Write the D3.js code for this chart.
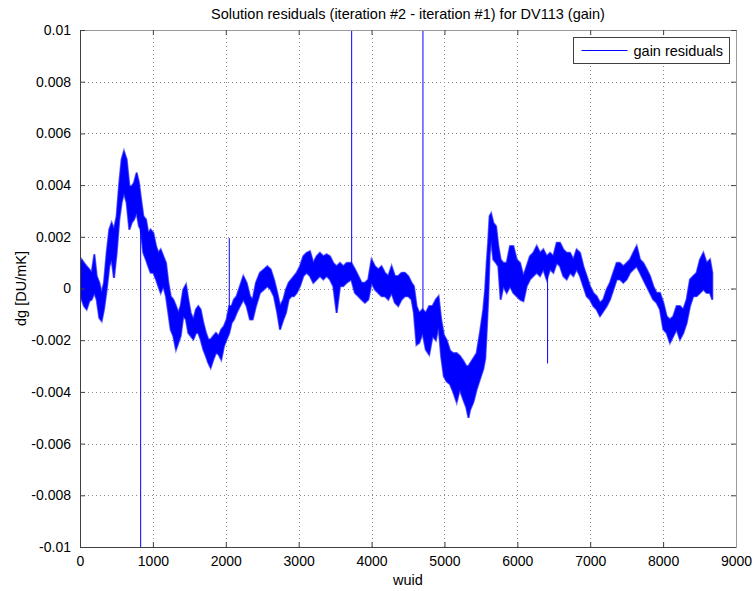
<!DOCTYPE html>
<html>
<head>
<meta charset="utf-8">
<script src="https://cdn.jsdelivr.net/npm/d3@7"></script>
<style>
  body { margin: 0; background: #fff; }
  text { font-family: "Liberation Sans", Arial, sans-serif; fill: #000; }
</style>
</head>
<body>
<div id="wrapper"></div>
<script>
// sampled envelope of the residual trace (upper / lower edge of the noisy band)
const wuid = [0,23,55,91,128,160,197,229,265,297,329,366,402,434,466,503,539,571,603,640,677,709,741,777,809,832,869,905,937,969,1006,1043,1075,1107,1143,1180,1212,1244,1280,1317,1349,1381,1417,1454,1486,1518,1555,1591,1623,1655,1692,1728,1760,1792,1829,1865,1902,1938,1975,2012,2048,2080,2112,2149,2195,2241,2286,2332,2369,2414,2469,2524,2570,2616,2661,2707,2744,2790,2826,2863,2899,2936,2973,3018,3064,3109,3155,3201,3247,3292,3338,3384,3429,3475,3521,3567,3612,3658,3722,3772,3818,3863,3909,3955,4000,4046,4092,4137,4183,4229,4275,4320,4366,4412,4458,4503,4549,4581,4617,4654,4700,4745,4791,4837,4882,4919,4955,4992,5031,5076,5120,5168,5210,5259,5300,5330,5351,5397,5442,5488,5534,5560,5580,5600,5620,5640,5671,5708,5739,5771,5808,5854,5900,5945,5991,6037,6083,6128,6174,6220,6266,6311,6357,6403,6449,6494,6540,6586,6631,6677,6723,6769,6814,6860,6906,6951,6997,7043,7088,7134,7180,7226,7271,7317,7363,7408,7454,7500,7546,7591,7637,7683,7728,7774,7820,7865,7911,7957,8003,8048,8094,8140,8186,8231,8277,8323,8369,8414,8460,8506,8552,8597,8643,8675];
const gainHi = [0.00086,0.00112,0.00099,0.00086,0.00074,0.00061,0.00132,0.00048,0.00022,-0.00017,0.00022,0.00138,0.00228,0.00254,0.00228,0.0028,0.00409,0.00499,0.00531,0.00499,0.00396,0.00396,0.00409,0.00448,0.00409,0.00357,0.0028,0.00267,0.00215,0.00228,0.00215,0.00164,0.00138,0.00151,0.00125,0.00099,0.00022,-0.0003,-0.00043,-0.00068,-0.00094,-0.00068,-0.00004,0.00015,-0.00043,-0.00094,-0.0012,-0.00081,-0.00068,-0.00081,-0.00133,-0.00172,-0.00197,-0.00197,-0.00184,-0.00172,-0.00184,-0.00159,-0.00146,-0.0012,-0.00068,-0.00068,-0.00043,-0.0003,0.00009,0.00048,0.00022,-0.0003,-0.00043,0.00022,0.00061,0.00074,0.00086,0.00074,0.00035,-0.00017,-0.00068,-0.00043,-0.00004,0.00022,0.00035,0.00048,0.00061,0.00086,0.00125,0.00138,0.00144,0.00099,0.00125,0.00138,0.00125,0.00132,0.00125,0.00099,0.00086,0.00099,0.00086,0.00099,0.00099,0.00074,0.00048,0.00022,0.00022,0.00035,0.00112,0.00086,0.00074,0.00086,0.00061,0.00048,0.00086,0.00048,0.00048,0.00061,0.00061,0.00048,0.00022,0.00009,-0.00068,-0.00094,-0.00081,-0.00094,-0.00068,-0.00068,-0.00043,-0.0003,-0.0012,-0.0018,-0.002,-0.0024,-0.0025,-0.0025,-0.0026,-0.0028,-0.003,-0.003,-0.0029,-0.0027,-0.0025,-0.0017,-0.0008,0,0.001,0.0018,0.0028,0.0029,0.00254,0.00241,0.00164,0.00112,0.00099,0.00099,0.00164,0.00164,0.00112,0.00099,0.00048,0.00086,0.00125,0.00138,0.00164,0.00138,0.00151,0.00125,0.00138,0.00125,0.00177,0.00177,0.00151,0.00138,0.00138,0.00112,0.00151,0.00138,0.00086,0.00048,0.00009,-0.00017,-0.0003,-0.00055,-0.00043,-0.00004,0.00022,0.00061,0.00099,0.00099,0.00086,0.00099,0.00112,0.00138,0.00164,0.00112,0.00099,0.00074,0.00048,0.00009,-0.00017,-0.00017,-0.00055,-0.00107,-0.0012,-0.00107,-0.00068,-0.00068,-0.00081,-0.00043,0.00035,0.00048,0.00061,0.00112,0.00138,0.00099,0.00112,0.00061];
const gainLo = [-0.00017,-0.00043,-0.00068,-0.00081,-0.00049,-0.00043,-0.00017,-0.00043,-0.00114,-0.00126,-0.00081,-0.00004,0.00086,0.00112,0.00041,0.00138,0.00267,0.00332,0.0037,0.00332,0.00228,0.00254,0.00267,0.00293,0.00241,0.00228,0.00138,0.00112,0.00086,0.00061,0.00061,0.00035,0.00009,-0.00017,0.00009,-0.0003,-0.00094,-0.00159,-0.00184,-0.00236,-0.0021,-0.00184,-0.00107,-0.0012,-0.00172,-0.00184,-0.00197,-0.00172,-0.00172,-0.00197,-0.00236,-0.00262,-0.00288,-0.00307,-0.00275,-0.00249,-0.00255,-0.00275,-0.00223,-0.00197,-0.00172,-0.00133,-0.0012,-0.00094,-0.00068,-0.00043,-0.00068,-0.0012,-0.0012,-0.00068,-0.00017,-0.00004,0.00009,-0.00004,-0.0003,-0.00094,-0.00159,-0.0012,-0.00094,-0.00043,-0.0003,-0.0003,-0.00017,0.00009,0.00048,0.00061,0.00048,0.00022,0.00035,0.00048,0.00035,0.00048,0.00035,0.00009,-0.00094,0.00009,0.00009,0.00022,0.00035,-0.00017,-0.0003,-0.00043,-0.00055,-0.00043,0.00022,-0.00004,-0.00017,-0.0003,-0.0003,-0.00043,-0.00017,-0.00055,-0.00068,-0.00043,-0.0003,-0.0003,-0.00043,-0.00094,-0.00218,-0.0021,-0.00172,-0.00237,-0.00256,-0.00184,-0.002,-0.00146,-0.00263,-0.0034,-0.0036,-0.0037,-0.004,-0.0044,-0.0039,-0.0043,-0.0046,-0.005,-0.0047,-0.0044,-0.0039,-0.0035,-0.0031,-0.0027,-0.0016,-0.0004,0.0013,0.0019,0.00112,0.00099,0.00086,-0.00043,0.00009,-0.00017,0.00009,-0.00017,-0.0003,-0.00043,-0.00049,0.00009,0.00035,0.00048,0.00061,0.00048,0.00074,0.00035,0.00074,0.00061,0.00099,0.00086,0.00048,0.00035,0.00061,0.00048,0.00074,0.00048,0.00009,-0.0003,-0.00043,-0.00068,-0.00081,-0.00107,-0.00088,-0.00068,-0.00043,-0.00004,0.00035,0.00035,0.00022,0.00035,0.00061,0.00074,0.00086,0.00061,0.00035,0.00009,-0.00017,-0.00043,-0.00055,-0.00081,-0.00159,-0.00172,-0.0021,-0.00184,-0.00159,-0.00197,-0.00172,-0.00133,-0.00068,-0.0003,-0.0003,-0.00017,-0.00004,-0.00017,-0.00017,-0.00043];

// isolated outliers: wuid, value the trace leaves from, value it jumps to
const spikeWuid = [832, 2048, 3727, 4705, 6415];
const spikeFrom = [0.0028, -0.001, 0.0007, -0.0012, 0.0008];
const spikeTo = [-0.0105, 0.00195, 0.0105, 0.0105, -0.0029];

const xTicks = [0, 1000, 2000, 3000, 4000, 5000, 6000, 7000, 8000, 9000];
const xTickLabels = ["0", "1000", "2000", "3000", "4000", "5000", "6000", "7000", "8000", "9000"];
const yTicks = [-0.01, -0.008, -0.006, -0.004, -0.002, 0, 0.002, 0.004, 0.006, 0.008, 0.01];
const yTickLabels = ["-0.01", "-0.008", "-0.006", "-0.004", "-0.002", "0", "0.002", "0.004", "0.006", "0.008", "0.01"];

function buildPlot() {
    const data = wuid.map((w, i) => ({ w: w, hi: gainHi[i], lo: gainLo[i] }));
    const spikes = spikeWuid.map((w, i) => ({ w: w, from: spikeFrom[i], to: spikeTo[i] }));

    var dimension = {
        width: 755,
        height: 591,
        margin: { top: 30, left: 80, bottom: 44, right: 19 }
    };
    dimension.boundedWidth = dimension.width - dimension.margin.left - dimension.margin.right;
    dimension.boundedHeight = dimension.height - dimension.margin.top - dimension.margin.bottom;

    const svg = d3.select("#wrapper").append("svg")
        .attr("width", dimension.width)
        .attr("height", dimension.height);

    const bounded = svg.append("g")
        .attr("transform", `translate(${dimension.margin.left},${dimension.margin.top})`);

    const xScaler = d3.scaleLinear().domain([0, 9000]).range([0, dimension.boundedWidth]);
    const yScaler = d3.scaleLinear().domain([-0.01, 0.01]).range([dimension.boundedHeight, 0]);

    svg.append("defs").append("clipPath").attr("id", "plotclip")
        .append("rect")
        .attr("width", dimension.boundedWidth)
        .attr("height", dimension.boundedHeight);

    // dotted grid
    const grid = bounded.append("g")
        .attr("stroke", "#8a8a8a")
        .attr("stroke-width", 1)
        .attr("stroke-dasharray", "1,3")
        .attr("shape-rendering", "crispEdges");
    grid.selectAll(".gx").data(xTicks.slice(1, -1)).join("line")
        .attr("x1", d => Math.round(xScaler(d)) + 0.5).attr("x2", d => Math.round(xScaler(d)) + 0.5)
        .attr("y1", 0).attr("y2", dimension.boundedHeight);
    grid.selectAll(".gy").data(yTicks.slice(1, -1)).join("line")
        .attr("y1", d => Math.round(yScaler(d)) + 0.5).attr("y2", d => Math.round(yScaler(d)) + 0.5)
        .attr("x1", 0).attr("x2", dimension.boundedWidth);

    const plot = bounded.append("g").attr("clip-path", "url(#plotclip)");

    const areaGenerator = d3.area()
        .x(d => xScaler(d.w))
        .y0(d => yScaler(d.lo))
        .y1(d => yScaler(d.hi));

    // soft fringe under the solid band, like the overplotted noisy trace
    plot.append("path")
        .attr("d", areaGenerator(data))
        .attr("fill", "none")
        .attr("stroke", "#7070ff")
        .attr("stroke-width", 2.2)
        .attr("stroke-linejoin", "miter");

    plot.append("path")
        .attr("d", areaGenerator(data))
        .attr("fill", "#0000ff")
        .attr("stroke", "#0000ff")
        .attr("stroke-width", 0.6);

    const spikeLine = d3.line().x(d => d[0]).y(d => d[1]);
    plot.selectAll(".spike").data(spikes).join("path")
        .attr("d", d => spikeLine([[xScaler(d.w), yScaler(d.from)], [xScaler(d.w), yScaler(d.to)]]))
        .attr("stroke", "#0000ff")
        .attr("stroke-width", 1)
        .attr("fill", "none");

    // axes with inward ticks on all four sides
    const xAxisBottom = d3.axisBottom(xScaler).tickValues(xTicks).tickFormat((d, i) => xTickLabels[i]).tickSizeInner(-5).tickSizeOuter(0).tickPadding(9);
    const xAxisTop = d3.axisTop(xScaler).tickValues(xTicks).tickFormat("").tickSizeInner(-5).tickSizeOuter(0);
    const yAxisLeft = d3.axisLeft(yScaler).tickValues(yTicks).tickFormat((d, i) => yTickLabels[i]).tickSizeInner(-5).tickSizeOuter(0).tickPadding(9);
    const yAxisRight = d3.axisRight(yScaler).tickValues(yTicks).tickFormat("").tickSizeInner(-5).tickSizeOuter(0);

    const gBottom = bounded.append("g").attr("transform", `translate(0,${dimension.boundedHeight})`).call(xAxisBottom);
    const gTop = bounded.append("g").call(xAxisTop);
    const gLeft = bounded.append("g").call(yAxisLeft);
    const gRight = bounded.append("g").attr("transform", `translate(${dimension.boundedWidth},0)`).call(yAxisRight);

    [gBottom, gTop, gLeft, gRight].forEach(g => {
        g.attr("font-size", null).attr("font-family", null);
        g.selectAll("text").style("font-size", "14px").attr("fill", "#000");
        g.selectAll("line").attr("stroke", "#404040");
    });
    gBottom.select(".domain").attr("stroke", "#404040");
    gLeft.select(".domain").attr("stroke", "#404040");
    gTop.select(".domain").attr("stroke", "#9a9a9a");
    gRight.select(".domain").attr("stroke", "#9a9a9a");

    // title and labels
    svg.append("text")
        .attr("x", dimension.margin.left + dimension.boundedWidth / 2)
        .attr("y", 19)
        .attr("text-anchor", "middle")
        .style("font-size", "14.5px")
        .text("Solution residuals (iteration #2 - iteration #1) for DV113 (gain)");

    svg.append("text")
        .attr("x", dimension.margin.left + dimension.boundedWidth / 2)
        .attr("y", 585)
        .attr("text-anchor", "middle")
        .style("font-size", "14.5px")
        .text("wuid");

    svg.append("text")
        .attr("transform", `translate(26,${dimension.margin.top + dimension.boundedHeight / 2}) rotate(-90)`)
        .attr("text-anchor", "middle")
        .style("font-size", "14.5px")
        .text("dg [DU/mK]");

    // legend
    const legend = svg.append("g").attr("transform", "translate(573.5,37.5)");
    legend.append("rect")
        .attr("width", 156)
        .attr("height", 26)
        .attr("fill", "#fff")
        .attr("stroke", "#404040");
    legend.append("line")
        .attr("x1", 8).attr("x2", 54)
        .attr("y1", 13).attr("y2", 13)
        .attr("stroke", "#0000ff");
    legend.append("text")
        .attr("x", 60)
        .attr("y", 18)
        .style("font-size", "14.5px")
        .text("gain residuals");
}

buildPlot();
</script>
</body>
</html>
